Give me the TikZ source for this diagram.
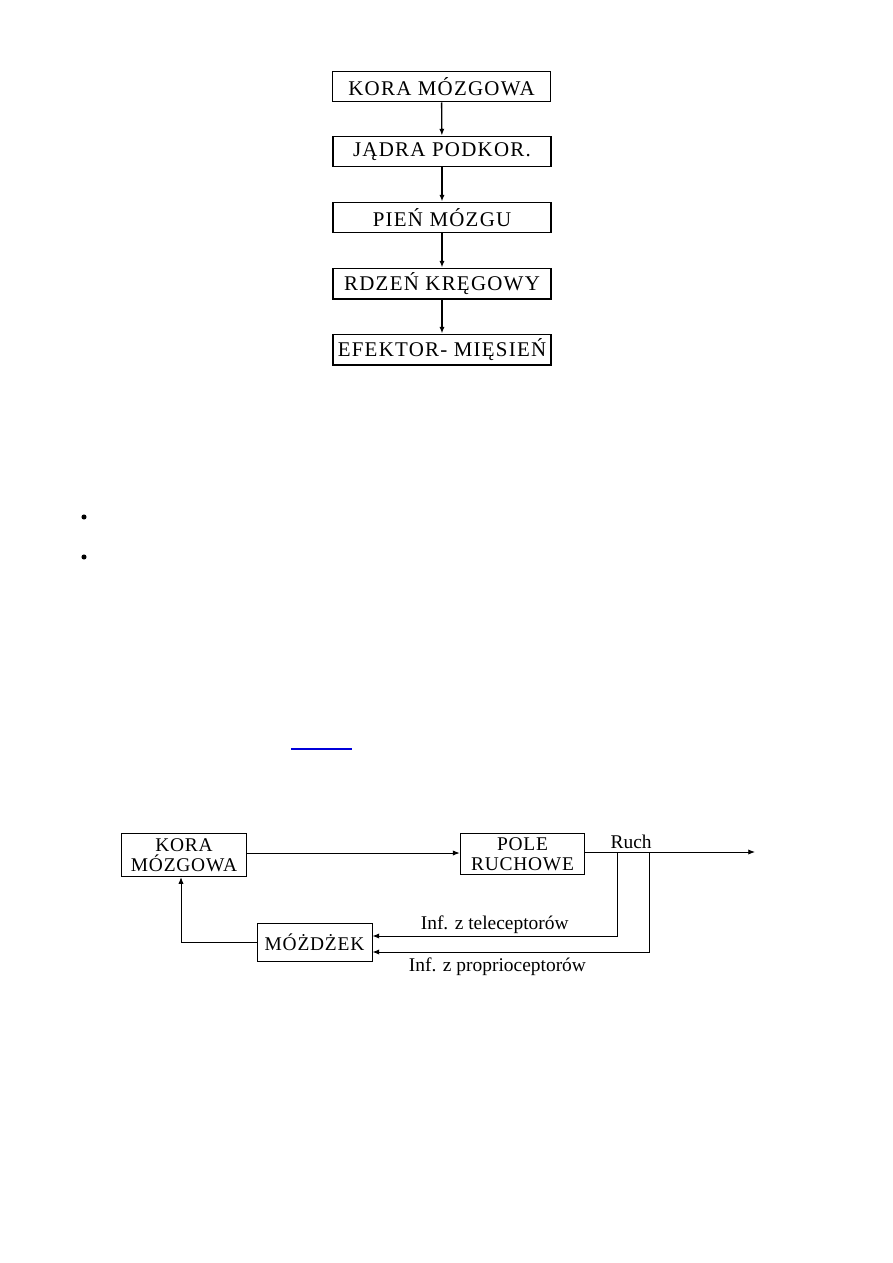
\documentclass[tikz,border=0pt]{standalone}
\usepackage{fontspec}
\setmainfont{Liberation Serif}
\usetikzlibrary{arrows.meta}

\tikzset{
  chainbox/.style={draw,line width=0.9pt,minimum width=146pt,minimum height=20.5pt,inner sep=0pt,
    font=\fontsize{14}{15}\selectfont\addfontfeature{LetterSpace=6}},
  loopbox/.style={draw,line width=0.6pt,inner sep=0pt,align=center,
    font=\fontsize{13}{13}\selectfont\addfontfeature{LetterSpace=4}},
  lbl/.style={font=\fontsize{13}{13}\selectfont},
  flow/.style={->,line width=0.6pt},
}

\begin{document}
\begin{tikzpicture}[>={Latex[length=4.5pt,width=3.5pt]},x=0.669pt,y=-0.669pt]
  \useasboundingbox (0,0) rectangle (893,1263);
  % Top chain of levels
  \node[chainbox] (kora)    at (441.5,86.5)  {KORA MÓZGOWA};
  \node[chainbox] (jadra)   at (442,151.5)   {JĄDRA PODKOR.};
  \node[chainbox] (pien)    at (442,217.5)   {PIEŃ MÓZGU};
  \node[chainbox] (rdzen)   at (442,283.5)   {RDZEŃ KRĘGOWY};
  \node[chainbox] (efektor) at (442,349.5)   {EFEKTOR- MIĘSIEŃ};
  \draw[flow,line width=0.9pt] (kora)  -- (jadra);
  \draw[flow,line width=0.9pt] (jadra) -- (pien);
  \draw[flow,line width=0.9pt] (pien)  -- (rdzen);
  \draw[flow,line width=0.9pt] (rdzen) -- (efektor);
  % Bullets and underline
  \fill (84,517) circle (1.7pt);
  \fill (84,557) circle (1.7pt);
  \draw[blue!85!black,line width=0.8pt] (291,749) -- (352,749);
  % Feedback loop
  \node[loopbox,minimum width=84pt,minimum height=29pt]   (kora2)   at (184,855)   {KORA\\MÓZGOWA};
  \node[loopbox,minimum width=83.5pt,minimum height=28pt] (pole)    at (522.5,854) {POLE\\RUCHOWE};
  \node[loopbox,minimum width=77pt,minimum height=26pt]   (mozdzek) at (314.5,942.5) {MÓŻDŻEK};
  \coordinate (ruchend) at (755,852);
  \coordinate (tele) at (617,852);
  \coordinate (prop) at (649,852);
  \draw[flow] (kora2.east |- 0,853) -- (pole.west |- 0,853);
  \draw[flow] (pole.east |- ruchend) -- (ruchend) node[pos=0.27,above,lbl,inner sep=2pt] {Ruch};
  \draw[flow] (tele) |- (mozdzek.east |- 0,936)
    node[pos=0.75,above,lbl,inner sep=1pt] {Inf. z teleceptorów};
  \draw[flow] (prop) |- (mozdzek.east |- 0,952)
    node[pos=0.774,below,lbl,inner sep=3.5pt] {Inf. z proprioceptorów};
  \draw[flow] (mozdzek.west) -| (kora2.south -| 181,0);
\end{tikzpicture}
\end{document}
